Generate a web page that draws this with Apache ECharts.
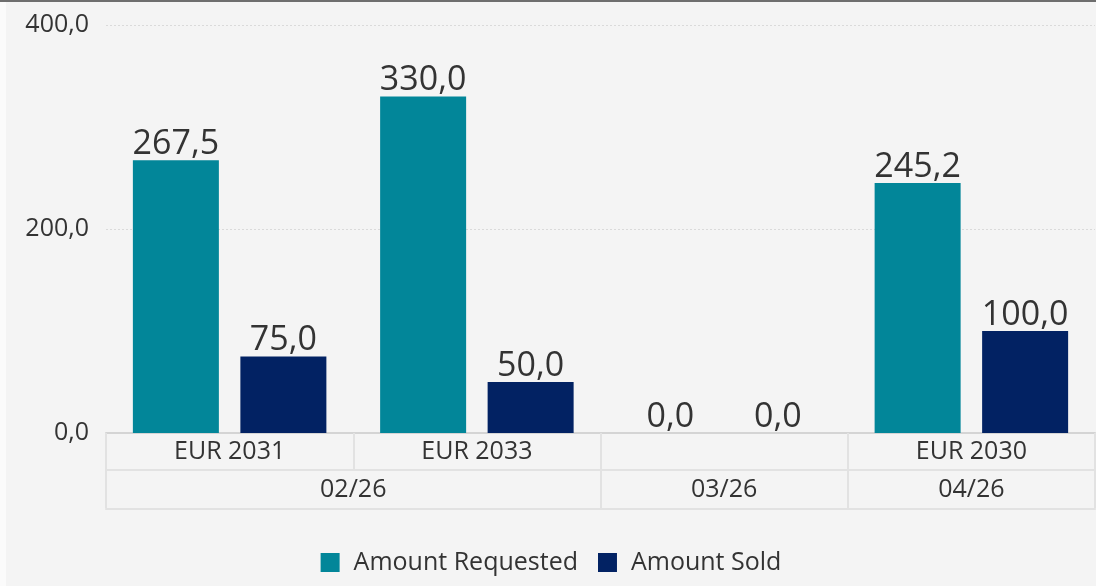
<!DOCTYPE html>
<html>
<head>
<meta charset="utf-8">
<script src="https://cdn.jsdelivr.net/npm/echarts@6/dist/echarts.min.js"></script>
<style>
  html, body { margin: 0; padding: 0; background: #fbfbfb; }
  #wrap { width: 1096px; height: 584px; border-top: 2px solid #6e6e6e; }
  #chart { margin-left: 6px; width: 1090px; height: 584px; background: #f4f4f4; }
</style>
</head>
<body>
<div id="wrap"><div id="chart"></div></div>
<script>
  // data
  var bonds = ['EUR 2031', 'EUR 2033', '', 'EUR 2030'];
  // second row: 9 points across the axis, labels sit between the group borders
  var months = ['', '', '02/26', '', '', '03/26', '', '04/26', ''];
  var monthBorders = [0, 4, 6, 8];
  var requested = [267.5, 330.0, 0.0, 245.2];
  var sold = [75.0, 50.0, 0.0, 100.0];

  var fmt = function (v) { return Number(v).toFixed(1).replace('.', ','); };
  var font = '"Open Sans", "Noto Sans", sans-serif';
  var lineCol = '#e2e2e2';

  var chart = echarts.init(document.getElementById('chart'));
  var option = {
    animation: false,
    textStyle: { fontFamily: font, color: '#333' },
    color: ['#028699', '#022263'],
    grid: { left: 100, right: 1, top: 23, bottom: 153 },
    legend: {
      bottom: 6,
      left: 'center',
      itemWidth: 19,
      itemHeight: 19,
      itemGap: 20,
      icon: 'rect',
      textStyle: { fontSize: 25, color: '#333', fontFamily: font, padding: [0, 0, 0, 9] },
      data: ['Amount Requested', 'Amount Sold']
    },
    xAxis: [
      {
        type: 'category',
        data: bonds,
        position: 'bottom',
        axisLine: { lineStyle: { color: '#d4d4d4', width: 2 } },
        axisTick: { show: true, interval: 0, length: 37, lineStyle: { color: lineCol, width: 2 } },
        axisLabel: { interval: 0, fontSize: 25, color: '#333', margin: 6, fontFamily: font }
      },
      {
        type: 'category',
        data: months,
        boundaryGap: false,
        position: 'bottom',
        offset: 37,
        axisLine: { lineStyle: { color: lineCol, width: 2 } },
        axisTick: {
          show: true, length: 38,
          interval: function (i) { return monthBorders.indexOf(i) >= 0; },
          lineStyle: { color: lineCol, width: 2 }
        },
        axisLabel: {
          fontSize: 25, color: '#333', margin: 7, fontFamily: font,
          interval: function (i, v) { return v !== ''; }
        }
      },
      {
        type: 'category',
        data: bonds,
        position: 'bottom',
        offset: 76,
        axisLine: { lineStyle: { color: lineCol, width: 2 } },
        axisTick: { show: false },
        axisLabel: { show: false }
      }
    ],
    yAxis: {
      type: 'value',
      min: 0,
      max: 400,
      interval: 200,
      axisLine: { show: false },
      axisTick: { show: false },
      axisLabel: { fontSize: 25, color: '#333', margin: 17, formatter: fmt, fontFamily: font },
      splitLine: { lineStyle: { color: '#dadada', width: 1, type: [2, 2] } }
    },
    series: [
      {
        name: 'Amount Requested',
        type: 'bar',
        xAxisIndex: 0,
        data: requested,
        barWidth: 86,
        barGap: '25%',
        label: { show: true, position: 'top', distance: 0, lineHeight: 32, fontSize: 34, color: '#333', formatter: function (p) { return fmt(p.value); }, fontFamily: font }
      },
      {
        name: 'Amount Sold',
        type: 'bar',
        xAxisIndex: 0,
        data: sold,
        barWidth: 86,
        barGap: '25%',
        label: { show: true, position: 'top', distance: 0, lineHeight: 32, fontSize: 34, color: '#333', formatter: function (p) { return fmt(p.value); }, fontFamily: font }
      }
    ]
  };
  chart.setOption(option);
</script>
</body>
</html>
